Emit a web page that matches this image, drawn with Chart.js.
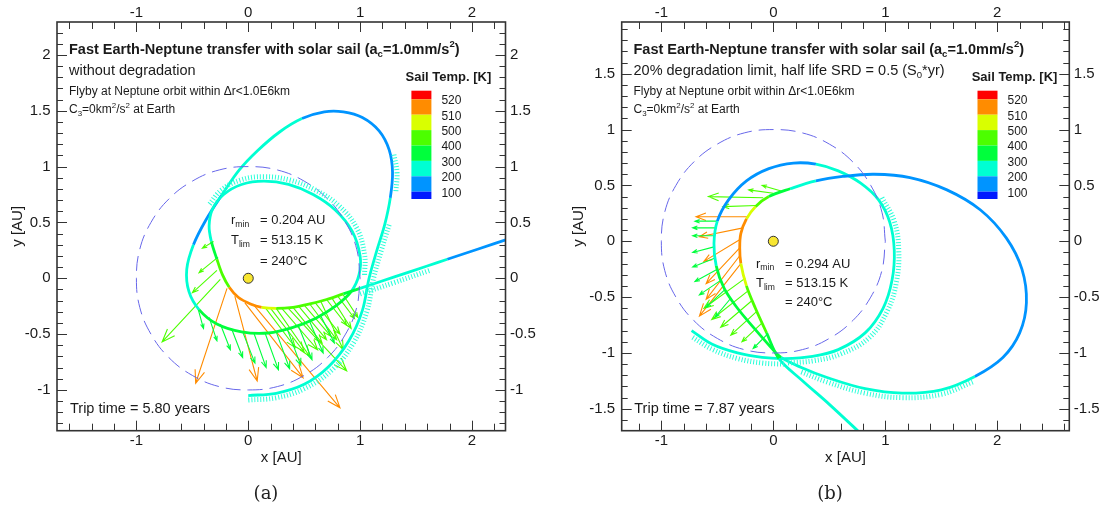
<!DOCTYPE html>
<html>
<head>
<meta charset="utf-8">
<script src="https://cdn.jsdelivr.net/npm/chart.js@4.4.1/dist/chart.umd.min.js"></script>
<style>
  body { margin: 0; background: #fff; }
  #wrap { position: relative; width: 1107px; height: 508px; overflow: hidden; }
  canvas { position: absolute; top: 0; }
  #chartA { left: 0; }
  #chartB { left: 555px; }
  .cap { position: absolute; top: 482px; width: 60px; text-align: center; font: 18px "DejaVu Serif", serif; color: #222; }
</style>
</head>
<body>
<div id="wrap">
  <canvas id="chartA" width="555" height="508"></canvas>
  <canvas id="chartB" width="552" height="508"></canvas>
  <div class="cap" style="left:236px">(a)</div>
  <div class="cap" style="left:800px">(b)</div>
</div>
<script>
// ======================= Data =======================
const tempLabels = [520, 510, 500, 400, 300, 200, 100];
const bandColors = ["#ff0000", "#ff8c00", "#d9ff00", "#4cff00", "#00ff3c", "#00ffd2", "#0094ff", "#0019ff"];

// Earth orbit (r = 1 AU)
const earthX = [1, 0.97, 0.87, 0.71, 0.5, 0.26, 0, -0.26, -0.5, -0.71, -0.87, -0.97, -1, -0.97, -0.87, -0.71, -0.5, -0.26, 0, 0.26, 0.5, 0.71, 0.87, 0.97, 1];
const earthY = [0, 0.26, 0.5, 0.71, 0.87, 0.97, 1, 0.97, 0.87, 0.71, 0.5, 0.26, 0, -0.26, -0.5, -0.71, -0.87, -0.97, -1, -0.97, -0.87, -0.71, -0.5, -0.26, 0];
const sunX = [0];
const sunY = [0];

// (a) without degradation
const pathAx = [0.00, 0.25, 0.50, 0.72, 0.90, 1.02, 1.08, 1.15, 1.22, 1.27, 1.29, 1.26, 1.17, 1.02, 0.85, 0.68, 0.48, 0.28, 0.08, -0.08, -0.24, -0.38, -0.49, -0.55, -0.53, -0.44, -0.28, -0.06, 0.18, 0.40, 0.60, 0.78, 0.92, 0.99, 1.00, 0.93, 0.78, 0.58, 0.36, 0.14, -0.06, -0.22, -0.32, -0.35, -0.33, -0.28, -0.23, -0.17, -0.09, 0.02, 0.12, 0.25, 0.40, 0.55, 0.70, 0.85, 1.00, 1.30, 1.60, 1.78, 2.05, 2.35];
const pathAy = [-1.05, -1.03, -0.95, -0.79, -0.56, -0.29, 0.00, 0.25, 0.48, 0.72, 0.95, 1.15, 1.32, 1.44, 1.49, 1.49, 1.43, 1.31, 1.14, 0.97, 0.74, 0.52, 0.30, 0.08, -0.12, -0.28, -0.41, -0.48, -0.49, -0.44, -0.36, -0.25, -0.12, 0.03, 0.20, 0.42, 0.61, 0.75, 0.84, 0.87, 0.84, 0.75, 0.62, 0.47, 0.33, 0.17, 0.03, -0.08, -0.17, -0.23, -0.26, -0.27, -0.26, -0.23, -0.19, -0.14, -0.09, 0.01, 0.11, 0.17, 0.26, 0.36];
const pathAT = [250, 250, 250, 250, 250, 250, 250, 250, 250, 180, 180, 180, 180, 180, 180, 180, 250, 250, 250, 250, 180, 180, 250, 250, 250, 350, 350, 350, 350, 350, 350, 350, 250, 250, 250, 250, 250, 250, 250, 250, 250, 250, 250, 250, 350, 450, 450, 515, 515, 515, 505, 450, 450, 450, 400, 350, 250, 250, 250, 180, 180, 180];
const hatchA = [
    [[0.00, -1.09], [0.25, -1.07], [0.50, -0.99], [0.75, -0.82], [0.94, -0.58], [1.06, -0.30], [1.12, 0.00], [1.19, 0.25], [1.26, 0.48]],
    [[1.04, 0.03], [1.04, 0.21], [0.97, 0.45], [0.81, 0.65], [0.60, 0.79], [0.37, 0.88], [0.14, 0.91], [-0.07, 0.88], [-0.24, 0.79], [-0.35, 0.66]],
    [[1.00, -0.14], [1.30, -0.04], [1.62, 0.07]],
    [[1.32, 0.78], [1.33, 0.95], [1.30, 1.12]]
];
// sail force arrows: [x0, y0, x1, y1, T]
const arrowsA = [
    [-0.19, -0.09, -0.47, -0.94, 515], [-0.12, -0.16, 0.08, -0.92, 515], [-0.03, -0.22, 0.49, -0.89, 515], [0.05, -0.24, 0.82, -1.16, 515],
    [-0.25, -0.01, -0.77, -0.57, 450], [-0.28, 0.07, -0.50, -0.13, 450], [-0.27, 0.19, -0.44, 0.05, 450], [-0.31, 0.33, -0.41, 0.27, 450],
    [0.15, -0.26, 0.42, -0.62, 450], [0.20, -0.27, 0.50, -0.66, 450], [0.25, -0.27, 0.55, -0.70, 450], [0.30, -0.27, 0.62, -0.64, 450],
    [0.35, -0.26, 0.88, -0.83, 450], [0.40, -0.26, 0.66, -0.58, 450], [0.45, -0.25, 0.70, -0.55, 450], [0.50, -0.24, 0.74, -0.52, 450],
    [0.55, -0.23, 0.79, -0.55, 450], [0.60, -0.22, 0.82, -0.50, 450], [0.65, -0.21, 0.85, -0.64, 450], [0.70, -0.19, 0.88, -0.42, 400],
    [0.75, -0.18, 0.92, -0.45, 400], [0.80, -0.16, 0.95, -0.36, 400], [0.85, -0.15, 0.98, -0.35, 400],
    [-0.45, -0.27, -0.40, -0.45, 350], [-0.35, -0.35, -0.28, -0.56, 350], [-0.25, -0.41, -0.16, -0.64, 350], [-0.15, -0.45, -0.05, -0.71, 350],
    [-0.05, -0.48, 0.06, -0.76, 350], [0.05, -0.49, 0.16, -0.80, 350], [0.15, -0.49, 0.27, -0.82, 350], [0.25, -0.48, 0.37, -0.81, 350],
    [0.35, -0.46, 0.47, -0.78, 350], [0.45, -0.43, 0.57, -0.73, 350], [0.55, -0.39, 0.67, -0.67, 350], [0.65, -0.34, 0.77, -0.58, 350]
];

// (b) 20% degradation limit
const pathBx = [-0.73, -0.55, -0.32, -0.10, 0.10, 0.35, 0.58, 0.82, 0.98, 1.06, 1.08, 1.04, 0.94, 0.78, 0.58, 0.38, 0.18, -0.04, -0.24, -0.40, -0.50, -0.53, -0.51, -0.44, -0.32, -0.17, -0.03, 0.07, 0.25, 0.48, 0.82, 1.15, 1.50, 1.80, 2.05, 2.20, 2.26, 2.22, 2.08, 1.85, 1.55, 1.22, 0.90, 0.62, 0.38, 0.15, -0.04, -0.16, -0.24, -0.29, -0.30, -0.29, -0.24, -0.16, -0.06, 0.05, 0.25, 0.50, 0.80];
const pathBy = [-0.80, -0.92, -1.00, -1.04, -1.05, -1.03, -0.97, -0.82, -0.60, -0.35, -0.08, 0.17, 0.37, 0.52, 0.63, 0.69, 0.70, 0.65, 0.54, 0.37, 0.18, -0.02, -0.22, -0.42, -0.60, -0.78, -0.94, -1.04, -1.13, -1.22, -1.32, -1.36, -1.33, -1.21, -1.04, -0.82, -0.55, -0.25, 0.03, 0.28, 0.46, 0.57, 0.60, 0.58, 0.54, 0.47, 0.40, 0.31, 0.20, 0.07, -0.06, -0.20, -0.40, -0.60, -0.82, -1.05, -1.24, -1.46, -1.74];
const pathBT = [250, 250, 250, 250, 250, 250, 250, 250, 250, 250, 250, 250, 250, 250, 250, 180, 180, 180, 180, 180, 250, 250, 350, 350, 350, 350, 350, 250, 250, 250, 250, 250, 250, 180, 180, 180, 180, 180, 180, 180, 180, 180, 180, 180, 250, 350, 450, 505, 515, 515, 515, 505, 450, 450, 350, 250, 250, 250, 250];
const hatchB = [
    [[-0.72, -0.86], [-0.54, -0.97], [-0.32, -1.05], [-0.10, -1.09], [0.10, -1.10]],
    [[0.97, 0.39], [1.08, 0.18], [1.12, -0.08], [1.10, -0.36], [1.02, -0.62], [0.86, -0.86], [0.60, -1.01], [0.36, -1.07], [0.12, -1.09]],
    [[0.25, -1.17], [0.48, -1.26], [0.82, -1.36], [1.15, -1.40], [1.50, -1.37], [1.78, -1.26]]
];
const arrowsB = [
    [-0.22, 0.22, -0.69, 0.22, 515], [-0.27, 0.12, -0.66, 0.04, 515], [-0.29, 0.02, -0.62, -0.18, 515],
    [-0.30, -0.06, -0.60, -0.38, 515], [-0.30, -0.13, -0.60, -0.52, 515], [-0.29, -0.20, -0.66, -0.67, 515],
    [-0.09, 0.39, -0.58, 0.40, 450], [0.00, 0.43, -0.22, 0.46, 450], [0.07, 0.45, -0.10, 0.50, 400], [-0.15, 0.32, -0.45, 0.31, 450],
    [-0.25, -0.33, -0.62, -0.60, 450], [-0.22, -0.44, -0.55, -0.70, 450], [-0.19, -0.53, -0.47, -0.77, 450],
    [-0.15, -0.63, -0.38, -0.84, 400], [-0.10, -0.73, -0.28, -0.90, 400], [-0.05, -0.83, -0.18, -0.96, 350],
    [-0.50, 0.18, -0.70, 0.18, 350], [-0.52, 0.12, -0.72, 0.12, 350], [-0.53, 0.05, -0.72, 0.05, 350], [-0.53, -0.05, -0.72, -0.10, 350],
    [-0.52, -0.15, -0.72, -0.23, 350], [-0.50, -0.25, -0.70, -0.36, 350], [-0.47, -0.35, -0.66, -0.48, 350],
    [-0.43, -0.43, -0.60, -0.59, 350], [-0.38, -0.51, -0.52, -0.68, 350]
];

// ======================= Helpers =======================
const FONT = '"Liberation Sans", Arial, Helvetica, sans-serif';
Chart.defaults.font.family = FONT;

function tempColor(T) {
    if (T >= 520) return bandColors[0];
    if (T >= 510) return bandColors[1];
    if (T >= 500) return bandColors[2];
    if (T >= 400) return bandColors[3];
    if (T >= 300) return bandColors[4];
    if (T >= 200) return bandColors[5];
    if (T >= 100) return bandColors[6];
    return bandColors[7];
}

const isMultiple = (v, m) => Math.abs(v / m - Math.round(v / m)) < 1e-6;
const fmt = v => String(Math.round(v * 10) / 10);

function richText(ctx, x, y, parts, size, weight) {
    parts.forEach(([t, kind]) => {
        const s = kind ? size * 0.66 : size;
        ctx.font = `${weight} ${s}px ${FONT}`;
        const dy = kind === "sub" ? size * 0.3 : kind === "sup" ? -size * 0.38 : 0;
        ctx.fillText(t, x, y + dy);
        x += ctx.measureText(t).width;
    });
}

function drawArrows(chart, arrows) {
    const {ctx, chartArea: a, scales: {x, y}} = chart;
    ctx.save();
    ctx.beginPath();
    ctx.rect(a.left, a.top, a.right - a.left, a.bottom - a.top);
    ctx.clip();
    ctx.lineWidth = 1.1;
    arrows.forEach(([x0, y0, x1, y1, T]) => {
        const px0 = x.getPixelForValue(x0), py0 = y.getPixelForValue(y0);
        const px1 = x.getPixelForValue(x1), py1 = y.getPixelForValue(y1);
        const ang = Math.atan2(py1 - py0, px1 - px0);
        const len = Math.hypot(px1 - px0, py1 - py0);
        const head = Math.min(14, Math.max(5, len * 0.2));
        ctx.strokeStyle = tempColor(T);
        ctx.beginPath();
        ctx.moveTo(px0, py0);
        ctx.lineTo(px1, py1);
        ctx.moveTo(px1 - head * Math.cos(ang - 0.36), py1 - head * Math.sin(ang - 0.36));
        ctx.lineTo(px1, py1);
        ctx.lineTo(px1 - head * Math.cos(ang + 0.36), py1 - head * Math.sin(ang + 0.36));
        ctx.stroke();
    });
    ctx.restore();
}

function drawFrame(chart) {
    const {ctx, chartArea: a, scales: {x, y}} = chart;
    ctx.save();
    ctx.strokeStyle = "#333";
    ctx.lineWidth = 1;
    ctx.beginPath();
    x.ticks.forEach(t => {
        const px = Math.round(x.getPixelForValue(t.value)) + 0.5;
        const len = isMultiple(t.value, 1) ? 10 : 7;
        ctx.moveTo(px, a.bottom); ctx.lineTo(px, a.bottom - len);
        ctx.moveTo(px, a.top); ctx.lineTo(px, a.top + len);
    });
    y.ticks.forEach(t => {
        const py = Math.round(y.getPixelForValue(t.value)) + 0.5;
        const len = isMultiple(t.value, 0.5) ? 10 : 6;
        ctx.moveTo(a.left, py); ctx.lineTo(a.left + len, py);
        ctx.moveTo(a.right, py); ctx.lineTo(a.right - len, py);
    });
    ctx.stroke();
    ctx.lineWidth = 1.6;
    ctx.strokeRect(a.left, a.top, a.right - a.left, a.bottom - a.top);
    ctx.restore();
}

function drawTexts(chart, p) {
    const {ctx, chartArea: a} = chart;
    ctx.save();
    ctx.fillStyle = "#1a1a1a";
    ctx.textBaseline = "middle";
    ctx.textAlign = "left";
    richText(ctx, p.textX, 50, [["Fast Earth-Neptune transfer with solar sail (a"], ["c", "sub"], ["=1.0mm/s"], ["2", "sup"], [")"]], 14.5, "bold");
    richText(ctx, p.textX, 71, p.subtitle, 14.5, "normal");
    richText(ctx, p.textX, 92, [["Flyby at Neptune orbit within \u0394r<1.0E6km"]], 12, "normal");
    richText(ctx, p.textX, 110, [["C"], ["3", "sub"], ["=0km"], ["2", "sup"], ["/s"], ["2", "sup"], [" at Earth"]], 12, "normal");
    richText(ctx, p.tripX, 409, [[p.trip]], 14.5, "normal");

    // r_min / T_lim block
    const {x: ix, y: iy, dy} = p.info;
    richText(ctx, ix, iy, [["r"], ["min", "sub"]], 13, "normal");
    richText(ctx, ix + 29, iy, [[p.rmin]], 13, "normal");
    richText(ctx, ix, iy + dy, [["T"], ["lim", "sub"]], 13, "normal");
    richText(ctx, ix + 29, iy + dy, [["= 513.15 K"]], 13, "normal");
    richText(ctx, ix + 29, iy + 2 * dy, [["= 240\u00b0C"]], 13, "normal");

    // colour bar
    const bx = p.barX;
    const edges = [90.7, 99.3, 114.7, 130.1, 145.5, 160.9, 176.3, 191.7, 199];
    bandColors.forEach((c, i) => {
        ctx.fillStyle = c;
        ctx.fillRect(bx, edges[i], 20, edges[i + 1] - edges[i]);
    });
    ctx.fillStyle = "#1a1a1a";
    ctx.font = `12px ${FONT}`;
    tempLabels.forEach((t, i) => ctx.fillText(String(t), bx + 30, edges[i + 1] + 1.5));
    ctx.font = `bold 13px ${FONT}`;
    ctx.textAlign = "center";
    ctx.fillText("Sail Temp. [K]", bx + 37, 77);

    // axis titles
    ctx.font = `15px ${FONT}`;
    ctx.fillText("x [AU]", (a.left + a.right) / 2, 458);
    ctx.translate(p.yTitleX, (a.top + a.bottom) / 2);
    ctx.rotate(-Math.PI / 2);
    ctx.fillText("y [AU]", 0, 0);
    ctx.restore();
}

function makeDecor(p) {
    return {
        id: "decor",
        beforeDatasetsDraw(chart) { drawArrows(chart, p.arrows); },
        afterDatasetsDraw(chart) { drawFrame(chart); },
        afterDraw(chart) { drawTexts(chart, p); }
    };
}

function axis(position, min, max, step, labelEvery, size, padding) {
    const horiz = position === "top" || position === "bottom";
    return {
        type: "linear",
        position, min, max,
        grid: {display: false, drawTicks: false},
        border: {display: false},
        afterFit: s => { if (horiz) s.height = size; else s.width = size; },
        ticks: {
            stepSize: step, includeBounds: false, autoSkip: false, maxRotation: 0,
            padding, color: "#1a1a1a", font: {size: 15},
            callback: v => isMultiple(v, labelEvery) ? fmt(v) : ""
        }
    };
}

function buildPanel(id, p) {
    const datasets = [];
    p.hatch.forEach(h => datasets.push({
        data: h.map(([x, y]) => ({x, y})),
        showLine: true, pointRadius: 0, tension: 0.4,
        borderColor: "#2affd9", borderWidth: 5, borderDash: [1, 2]
    }));
    datasets.push({
        data: earthX.map((x, i) => ({x, y: earthY[i]})),
        showLine: true, pointRadius: 0, tension: 0.4,
        borderColor: "#6767ea", borderWidth: 1, borderDash: [15, 7]
    });
    datasets.push({
        data: p.pathX.map((x, i) => ({x, y: p.pathY[i]})),
        showLine: true, pointRadius: 0, tension: 0.35, borderWidth: 2.8,
        borderColor: tempColor(250),
        segment: {borderColor: ctx => tempColor(p.pathT[ctx.p0DataIndex])}
    });
    datasets.push({
        data: sunX.map((x, i) => ({x, y: sunY[i]})),
        showLine: false, pointRadius: 5, pointBackgroundColor: "#f8e631",
        pointBorderColor: "#333", pointBorderWidth: 1
    });

    new Chart(document.getElementById(id), {
        type: "scatter",
        data: {datasets},
        options: {
            responsive: false,
            animation: false,
            devicePixelRatio: 1,
            layout: {padding: 0},
            plugins: {legend: {display: false}, tooltip: {enabled: false}},
            scales: {
                x: axis("bottom", p.xMin, p.xMax, 0.2, 1, 77.3, 1),
                x2: axis("top", p.xMin, p.xMax, 0.2, 1, 22, 0),
                y: axis("left", p.yMin, p.yMax, 0.1, 0.5, p.leftW, 6.5),
                y2: axis("right", p.yMin, p.yMax, 0.1, 0.5, p.rightW, 4.5)
            }
        },
        plugins: [makeDecor(p)]
    });
}

// ======================= Panels =======================
buildPanel("chartA", {
    pathX: pathAx, pathY: pathAy, pathT: pathAT, hatch: hatchA, arrows: arrowsA,
    xMin: -1.71, xMax: 2.30, yMin: -1.365, yMax: 2.295, leftW: 57, rightW: 49.5,
    textX: 69, tripX: 70, barX: 411.4, yTitleX: 18,
    subtitle: [["without degradation"]],
    trip: "Trip time = 5.80 years",
    rmin: "= 0.204 AU",
    info: {x: 231, y: 220.7, dy: 20.2}
});

buildPanel("chartB", {
    pathX: pathBx, pathY: pathBy, pathT: pathBT, hatch: hatchB, arrows: arrowsB,
    xMin: -1.354, xMax: 2.643, yMin: -1.696, yMax: 1.963, leftW: 66.7, rightW: 37.7,
    textX: 78.5, tripX: 79.3, barX: 422.5, yTitleX: 23.5,
    subtitle: [["20% degradation limit, half life SRD = 0.5 (S"], ["0", "sub"], ["*yr)"]],
    trip: "Trip time = 7.87 years",
    rmin: "= 0.294 AU",
    info: {x: 201, y: 264, dy: 19.3}
});
</script>
</body>
</html>
